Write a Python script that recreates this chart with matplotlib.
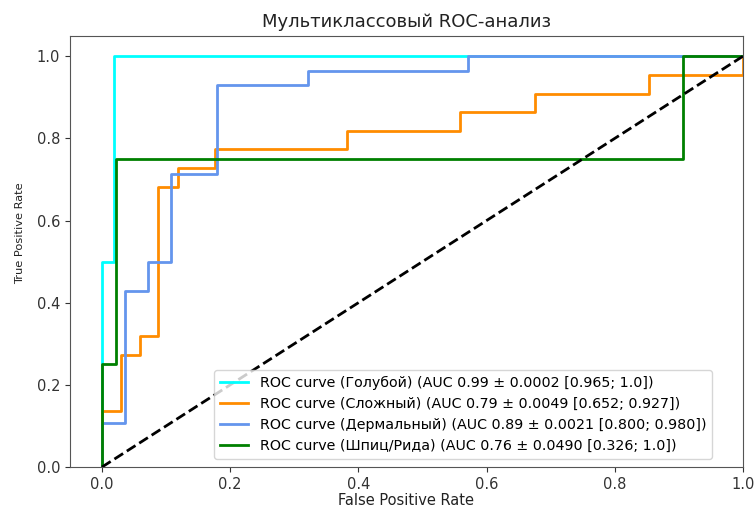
import matplotlib
matplotlib.use('Agg')
import matplotlib.pyplot as plt

# Данные ROC-кривых
fpr_goluboy = [0.0, 0.0, 0.018, 0.018, 1.0]
tpr_goluboy = [0.0, 0.5, 0.5, 1.0, 1.0]

fpr_slozhny = [0.0, 0.0, 0.029, 0.029, 0.059, 0.059, 0.088, 0.088, 0.118, 0.118,
               0.176, 0.176, 0.382, 0.382, 0.559, 0.559, 0.676, 0.676, 0.853, 0.853, 1.0, 1.0]
tpr_slozhny = [0.0, 0.136, 0.136, 0.273, 0.273, 0.318, 0.318, 0.682, 0.682, 0.727,
               0.727, 0.773, 0.773, 0.818, 0.818, 0.864, 0.864, 0.909, 0.909, 0.955, 0.955, 1.0]

fpr_dermal = [0.0, 0.0, 0.036, 0.036, 0.071, 0.071, 0.107, 0.107, 0.179, 0.179,
              0.321, 0.321, 0.571, 0.571, 1.0]
tpr_dermal = [0.0, 0.107, 0.107, 0.429, 0.429, 0.5, 0.5, 0.714, 0.714, 0.929,
              0.929, 0.964, 0.964, 1.0, 1.0]

fpr_shpic = [0.0, 0.0, 0.022, 0.022, 0.906, 0.906, 1.0]
tpr_shpic = [0.0, 0.25, 0.25, 0.75, 0.75, 1.0, 1.0]

klassy = ['Голубой', 'Сложный', 'Дермальный', 'Шпиц/Рида']
auc_vals = ['0.99', '0.79', '0.89', '0.76']
auc_std = ['0.0002', '0.0049', '0.0021', '0.0490']
auc_ci = ['[0.965; 1.0]', '[0.652; 0.927]', '[0.800; 0.980]', '[0.326; 1.0]']
colors = ['aqua', 'darkorange', 'cornflowerblue', 'green']

fprs = [fpr_goluboy, fpr_slozhny, fpr_dermal, fpr_shpic]
tprs = [tpr_goluboy, tpr_slozhny, tpr_dermal, tpr_shpic]

fig = plt.figure(figsize=(7.55, 5.08), dpi=100)
ax = fig.add_axes([0.0927, 0.0807, 0.8913, 0.8490])

for i in range(len(klassy)):
    ax.plot(fprs[i], tprs[i], color=colors[i], lw=2,
            label=f'ROC curve ({klassy[i]}) (AUC {auc_vals[i]} ± {auc_std[i]} {auc_ci[i]})')

ax.plot([0, 1], [0, 1], 'k--', lw=2)
ax.set_xlim([-0.05, 1.0])
ax.set_ylim([0.0, 1.05])
ax.tick_params(labelsize=10.5, colors='#333333')
for s in ax.spines.values():
    s.set_color('#555555')
ax.set_xlabel('False Positive Rate', fontsize=10.5, labelpad=1, color='#222222')
# подпись оси Y в оригинале заметно сжата
ax.set_ylabel('True Positive Rate', fontsize=8.2, color='#222222')
ax.yaxis.set_label_coords(-0.067, 0.541)
ax.set_title('Мультиклассовый ROC-анализ', fontsize=13, color='#222222')
ax.legend(loc='lower right', bbox_to_anchor=(0.954, 0.0185), borderaxespad=0,
          fontsize=10.3)

fig.savefig('out.png', dpi=100)
